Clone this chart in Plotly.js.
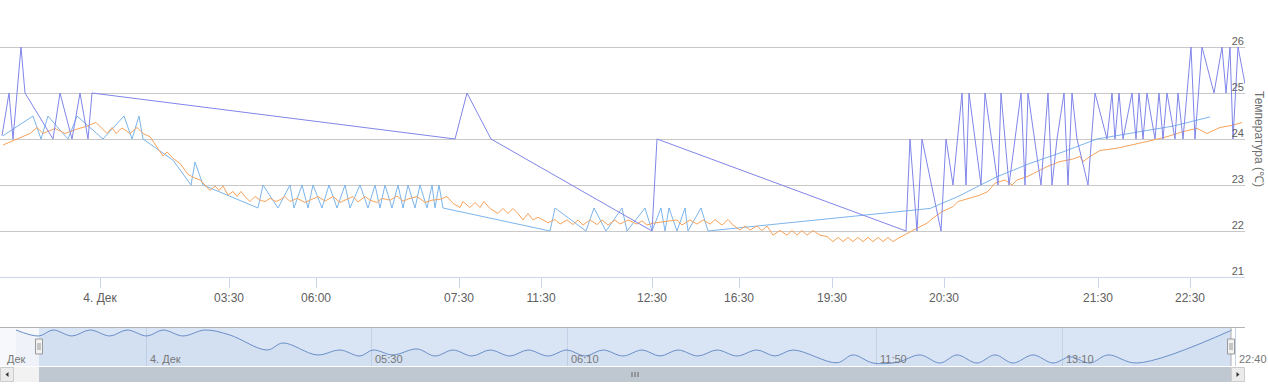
<!DOCTYPE html>
<html>
<head>
<meta charset="utf-8">
<script src="https://cdn.plot.ly/plotly-3.0.1.min.js"></script>
<style>
html,body{margin:0;padding:0;background:#fff;}
#chart{width:1268px;height:384px;}
</style>
</head>
<body>
<div id="chart"></div>
<script>
// ---- x axis (ordinal slots) ----
const xTickPos  = [20, 45.8, 63.2, 91.8, 108.2, 130.4, 147.8, 166.4, 188.8, 219.6, 238];
const xTickText = ['4. Дек','03:30','06:00','07:30','11:30','12:30','16:30','19:30','20:30','21:30','22:30'];
// ---- y axis ----
const yTickVals = [21, 22, 23, 24, 25, 26, 27];
const yTickText = ['21','22','23','24','25','26',''];
const yTitle = 'Температура (℃)';

// ---- series 1 (light blue) ----
const blueX = [0.6,6.6,8.2,9.6,11.4,13.6,15.4,20.6,24.8,26.4,
  27.8,28.6,34.6,38.2,39,40.6,51.6,52.6,55.6,58,
  58.8,60.4,61.6,62.6,64.4,65.8,67.4,69,70,72,
  73.6,75,76,77,78.4,79.6,80.6,81.6,83,84,
  85.4,86.4,87,87.8,88.6,110,111,117.2,118.8,121.2,
  124.4,125.4,129,130.4,132.2,133,133.8,135.4,137,137.6,
  140.2,141.6,186,191.6,199.4,206,212.6,219.4,228,234.6,
  242];
const blueY = [24.07,24.5,24.0,24.5,24.27,24.0,24.5,24.0,24.5,24.0,
  24.5,24.0,23.54,23.0,23.5,23.0,22.5,23.0,22.5,23.0,
  22.5,23.0,22.5,23.0,22.5,23.0,22.5,23.0,22.5,23.0,
  22.5,23.0,22.5,23.0,22.5,23.0,22.5,23.0,22.5,23.0,
  22.5,23.0,22.5,23.0,22.5,22.0,22.5,22.0,22.5,22.0,
  22.5,22.0,22.5,22.0,22.5,22.0,22.5,22.0,22.5,22.0,
  22.5,22.0,22.49,22.75,23.18,23.47,23.72,24.0,24.16,24.28,
  24.48];

// ---- series 2 (orange) ----
const orangeX = [0.6,6,7.4,8.6,11,13,15,17.4,19.2,21.4,
  22.4,23.2,24.4,26,27.4,28.6,30,31.2,32.6,33.4,
  34.6,36,37.6,39,40,41,42,43,43.8,44.6,
  45.6,46.6,47.4,48.2,49,50,51,52,53,54,
  55.2,56,57,58,59.4,61,62.6,63.6,65,66.6,
  68,69.4,70.6,71.6,73,74,75.4,76.4,78,79.4,
  80.6,82,83.4,85,86.4,88,89.4,90.6,92,92.6,
  94,95,96,96.8,98,99.6,100.6,101.6,102.6,103.6,
  104.6,105.6,106.6,107.6,108.6,109.6,111,112,113.4,114.6,
  115.6,116.6,118,119.4,120.4,121.6,123,124,125.6,127.4,
  128.4,129.4,130.6,135.4,136.4,138,139.4,140.6,142,143,
  144.4,145.6,146.6,148,149,150,151.4,152.4,153.4,154.6,
  156,157.4,158.4,159.4,160.4,161.4,162.6,164,165.4,166.6,
  167.6,168.6,169.6,170.6,171.6,172.6,173.6,174.6,175.6,176.6,
  177.6,178.6,179.6,181.4,183.4,185.4,186.6,188.4,190.6,191.6,
  194,196,197.6,199,201,202.4,203.4,205.4,207.4,209.4,
  212,214.4,216,216.6,218,220,223.4,226.6,230,233.4,
  236.6,239.4,241.4,244,246.6,248.4];
const orangeY = [23.87,24.12,24.25,24.12,24.23,24.12,24.2,24.28,24.36,24.12,
  24.25,24.12,24.24,24.12,24.25,24.12,24.05,23.85,23.63,23.72,
  23.58,23.47,23.23,23.15,23.11,23.0,22.88,22.98,22.88,22.98,
  22.78,22.86,22.75,22.86,22.75,22.64,22.75,22.67,22.64,22.71,
  22.64,22.68,22.75,22.64,22.71,22.62,22.69,22.75,22.65,22.75,
  22.62,22.69,22.75,22.63,22.75,22.67,22.62,22.71,22.67,22.76,
  22.65,22.71,22.75,22.62,22.67,22.69,22.75,22.6,22.51,22.64,
  22.51,22.62,22.51,22.64,22.49,22.38,22.49,22.38,22.49,22.38,
  22.24,22.38,22.24,22.3,22.24,22.18,22.25,22.15,22.24,22.14,
  22.24,22.13,22.24,22.14,22.24,22.13,22.24,22.15,22.24,22.15,
  22.22,22.13,22.17,22.24,22.13,22.24,22.15,22.24,22.15,22.25,
  22.13,22.25,22.13,22.02,22.11,22.02,22.11,22.01,22.11,21.91,
  22.01,21.91,22.01,21.91,22.01,21.91,22.01,21.91,21.88,21.77,
  21.86,21.77,21.86,21.77,21.86,21.77,21.86,21.77,21.86,21.77,
  21.86,21.77,21.84,21.95,22.06,22.17,22.28,22.42,22.53,22.64,
  22.71,22.78,22.86,23.04,23.11,23.0,23.11,23.18,23.29,23.4,
  23.51,23.56,23.62,23.51,23.62,23.75,23.8,23.87,23.96,24.05,
  24.16,24.23,24.12,24.25,24.3,24.36];

// ---- series 3 (purple) ----
const purpleX = [0.4,1.8,2.6,4.2,5,10.6,12,14.4,16,17.6,
  18.4,91,93.4,98.2,130.4,131.4,181.2,182,183.4,184.4,
  188.2,189.2,190.6,192.4,193.2,193.8,196.2,197,199.6,200.2,
  201.8,204.2,205,205.6,208.2,209.6,210.4,211.4,212.8,213.6,
  214.4,215.4,217.6,219,221.4,222.4,223,223.8,224.6,226.4,
  227.2,227.8,228.6,229.4,231,231.8,232.6,233.4,235,235.6,
  236.6,238.2,239,240.4,242.8,244.4,245.2,246,246.6,247.6,
  249];
const purpleY = [24.07,25,24,26,25,24,25,24,25,24,
  25,24,25,24,22,24,22,24,22,24,
  22,24,23,25,23,25,23,25,23,25,
  23,25,23,25,23,25,23,24,25,23,
  25,24,23,25,24,25,24,25,24,25,
  24,25,24,25,24,25,24,25,24,25,
  24,26,24,26,25,26,25,26,24,26,
  25.2];

// ---- navigator series ----
const navX = [3.2,7.8,10.6,14.4,18,22,25.4,29.4,32.6,36.6,
  41,46,53.4,56.6,63.4,68,72,74.6,78.6,83.4,
  87,90.6,94.4,98,102,105.6,109.6,113.4,117,120.6,
  124.6,128.4,132,135.6,139.6,143.4,147.4,151.4,155,158.6,
  167.4,170.6,174.6,179.4,184,188,191.4,195.4,199,202.6,
  206.6,210.6,214,218,221.6,227.4,246.4];
const navY = [24.27,23.81,24.27,23.81,24.27,23.81,24.27,23.81,24.27,23.81,
  24.27,23.88,22.73,23.27,22.35,22.73,22.27,22.73,22.35,22.81,
  22.27,22.73,22.27,22.73,22.27,22.73,22.27,22.73,22.27,22.73,
  22.27,22.73,22.27,22.73,22.27,22.73,22.27,22.73,22.27,22.73,
  21.75,22.35,21.73,21.78,22.35,21.73,22.35,21.73,22.35,21.73,
  22.35,21.73,22.2,21.73,22.35,21.73,24.27];
const navGridPos  = [29.2, 74.2, 113.4, 175.2, 212.4, 247];
const navLabelPos = [0.6, 29.2, 74.2, 113.4, 175.2, 212.4, 247];
const navLabelText = ['Дек','4. Дек','05:30','06:10','11:50','13:10','22:40'];
const navSelect = [7.8, 246.2];

// ---- geometry helpers ----
const H = 384, PW = 1245, XMAX = 249;
const py = p => (H - p) / (H - 1);          // pixel row -> paper y
const pxf = p => p / PW;                    // pixel col -> paper x
const sx = v => v / XMAX;                   // slot -> paper x

const FONT = "'Liberation Sans', Arial, sans-serif";

const traces = [
  {x: navX, y: navY, xaxis: 'x2', yaxis: 'y2', type: 'scatter', mode: 'lines',
   line: {color: '#6b8fc9', width: 1, shape: 'spline'}, fill: 'tozeroy',
   fillcolor: 'rgba(69,114,167,0.04)', hoverinfo: 'skip', showlegend: false},
  {x: blueX, y: blueY, type: 'scatter', mode: 'lines', name: 'Датчик 1',
   line: {color: '#7cb5ec', width: 1}, showlegend: false},
  {x: orangeX, y: orangeY, type: 'scatter', mode: 'lines', name: 'Датчик 2',
   line: {color: '#f7a35c', width: 1}, showlegend: false},
  {x: purpleX, y: purpleY, type: 'scatter', mode: 'lines', name: 'Датчик 3',
   line: {color: '#8085e9', width: 1}, showlegend: false}
];

const selL = sx(navSelect[0]), selR = sx(navSelect[1]);
const shapes = [
  // navigator background regions
  {type:'rect', xref:'paper', yref:'paper', x0:0, x1:selL, y0:py(366), y1:py(327),
   fillcolor:'#f6f8fb', line:{width:0}, layer:'below'},
  {type:'rect', xref:'paper', yref:'paper', x0:selL, x1:selR, y0:py(366), y1:py(327),
   fillcolor:'#d9e5f5', line:{width:0}, layer:'below'},
  // navigator outline
  {type:'line', xref:'paper', yref:'paper', x0:0, x1:1, y0:py(327.5), y1:py(327.5),
   line:{color:'#b3b3b3', width:1}},
  {type:'line', xref:'paper', yref:'paper', x0:selR, x1:selR, y0:py(327), y1:py(366),
   line:{color:'#b3b3b3', width:1}},
  // scrollbar track
  {type:'rect', xref:'paper', yref:'paper', x0:0, x1:1, y0:py(382), y1:py(367),
   fillcolor:'#f2f2f2', line:{width:0}},
  // scrollbar thumb
  {type:'rect', xref:'paper', yref:'paper', x0:selL, x1:selR, y0:py(382), y1:py(367),
   fillcolor:'#bfc7d1', line:{width:0}},
  // buttons
  {type:'rect', xref:'paper', yref:'paper', x0:pxf(0.5), x1:pxf(13.5), y0:py(381.5), y1:py(367.5),
   fillcolor:'#ebebeb', line:{color:'#cccccc', width:1}},
  {type:'rect', xref:'paper', yref:'paper', x0:pxf(1231.5), x1:pxf(1244.5), y0:py(381.5), y1:py(367.5),
   fillcolor:'#ebebeb', line:{color:'#cccccc', width:1}},
  {type:'path', xref:'paper', yref:'paper',
   path:`M ${pxf(8.5)} ${py(372)} L ${pxf(8.5)} ${py(377)} L ${pxf(5.5)} ${py(374.5)} Z`,
   fillcolor:'#333333', line:{width:0}},
  {type:'path', xref:'paper', yref:'paper',
   path:`M ${pxf(1236.5)} ${py(372)} L ${pxf(1236.5)} ${py(377)} L ${pxf(1239.5)} ${py(374.5)} Z`,
   fillcolor:'#333333', line:{width:0}},
];
// scrollbar grip
const gripC = (selL + selR) / 2;
[-3, 0, 3].forEach(d => shapes.push({type:'line', xref:'paper', yref:'paper',
  x0: gripC + pxf(d), x1: gripC + pxf(d), y0: py(372), y1: py(377), line:{color:'#666666', width:1}}));
// navigator handles
[selL, selR].forEach(c => {
  shapes.push({type:'rect', xref:'paper', yref:'paper', x0:c - pxf(3.5), x1:c + pxf(3.5),
    y0:py(354), y1:py(339), fillcolor:'#f2f2f2', line:{color:'#999999', width:1}});
  [-1, 1].forEach(d => shapes.push({type:'line', xref:'paper', yref:'paper',
    x0:c + pxf(d), x1:c + pxf(d), y0:py(350), y1:py(343), line:{color:'#999999', width:1}}));
});

const annotations = navLabelText.map((t, i) => ({
  text: t, xref: 'x2', yref: 'paper', x: navLabelPos[i], y: py(359),
  xanchor: 'left', yanchor: 'middle', xshift: 2, showarrow: false,
  font: {family: FONT, size: 11, color: '#777777'}
}));
annotations.push({text: yTitle, xref: 'paper', yref: 'paper', x: 1, xshift: 14,
  y: (py(277) + 1) / 2, xanchor: 'center', yanchor: 'middle', textangle: 90, showarrow: false,
  font: {family: FONT, size: 12, color: '#707070'}});

const layout = {
  width: 1268, height: 384,
  margin: {l: 0, r: 23, t: 1, b: 0, pad: 0},
  paper_bgcolor: '#ffffff', plot_bgcolor: 'rgba(0,0,0,0)',
  showlegend: false,
  font: {family: FONT, size: 11, color: '#606060'},
  xaxis: {domain: [0, 1], range: [0, XMAX], anchor: 'y', fixedrange: true,
    tickmode: 'array', tickvals: xTickPos, ticktext: xTickText,
    showgrid: false, zeroline: false, showline: true, linecolor: '#ccd6eb', linewidth: 1,
    ticks: 'outside', ticklen: 10, tickwidth: 1, tickcolor: '#ccd6eb',
    tickfont: {family: FONT, size: 12, color: '#606060'}},
  yaxis: {domain: [py(277), 1], range: [21, 27], anchor: 'x', side: 'right', fixedrange: true,
    tickmode: 'array', tickvals: yTickVals, ticktext: yTickText,
    showgrid: true, gridcolor: '#c8c8c8', gridwidth: 1, zeroline: false, showline: false,
    ticks: '', ticklabelposition: 'inside', ticklabelshift: -6, ticklabelstandoff: -2,
    tickfont: {family: FONT, size: 11, color: '#606060'}},
  xaxis2: {domain: [0, 1], range: [0, XMAX], anchor: 'y2', fixedrange: true,
    tickmode: 'array', tickvals: navGridPos, showticklabels: false, ticks: '',
    showgrid: true, gridcolor: '#c4d2e8', gridwidth: 1, zeroline: false, showline: false},
  yaxis2: {domain: [py(366), py(327)], range: [21.5, 24.5], anchor: 'x2', fixedrange: true,
    showgrid: false, showticklabels: false, zeroline: false, showline: false, ticks: ''},
  shapes: shapes,
  annotations: annotations
};

Plotly.newPlot('chart', traces, layout, {displayModeBar: false, staticPlot: true});
</script>
</body>
</html>
